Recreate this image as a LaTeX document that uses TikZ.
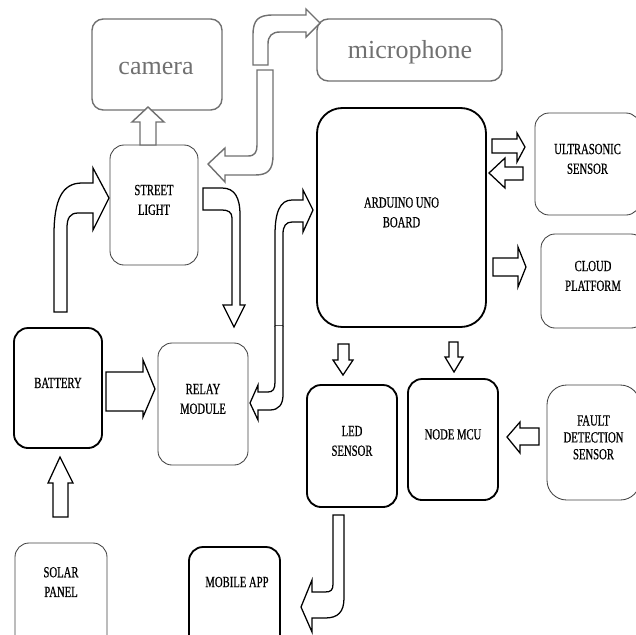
\documentclass[tikz,border=0pt]{standalone}
\usepackage{fontspec}
\setmainfont{Liberation Serif}
\newfontfamily\narrowserif[FakeStretch=0.69,FakeBold=0.6]{Liberation Serif}
\usepackage{tikz}
\usetikzlibrary{fit}
\definecolor{camgray}{RGB}{112,112,112}
\tikzset{
  sbox/.style={rectangle, rounded corners=10pt, draw=black, line width=1.3pt, inner sep=0pt, align=center, font=\narrowserif\fontsize{11}{14}\selectfont},
  sboxthin/.style={sbox, draw=black!75, line width=0.6pt},
  gbox/.style={rectangle, draw=camgray, line width=1pt, rounded corners=8pt, inner sep=0pt},
  gtext/.style={anchor=base, inner sep=0pt, text=camgray, font=\fontsize{18.5}{20}\selectfont},
  sarrow/.style={draw=black, line width=0.9pt, fill=white, line join=miter},
  garrow/.style={sarrow, draw=camgray, line width=1pt}
}

\begin{document}
\begin{tikzpicture}[x=0.025cm, y=-0.025cm]
\useasboundingbox (0,0) rectangle (636,634);
\clip (0,0) rectangle (636,634);
% blocks
\node[gbox, fit={(92,19) (222,110)}] (camera) {};
\node[gtext] (camera-txt) at (156,74) {camera};
\node[gbox, fit={(317,19) (502,81)}] (mic) {};
\node[gtext] (mic-txt) at (410,58) {microphone};
\node[sboxthin, fit={(110,145) (198,265)}] (slight) {STREET\\LIGHT};
\node[sbox, rounded corners=18pt, fit={(317,108) (486,327)}] (arduino) {ARDUINO UNO\\BOARD};
\node[sboxthin, fit={(535,113) (640,215)}] (ultra) {ULTRASONIC\\SENSOR};
\node[sboxthin, fit={(541,234) (645,328)}] (cloud) {CLOUD\\PLATFORM};
\node[sbox, fit={(14,328) (102,448)}] (battery) {BATTERY};
\node[sboxthin, align=left, fit={(158,343) (248,465)}] (relay) {RELAY\\MODULE};
\node[sbox, fit={(307,385) (397,507)}] (led) {LED\\SENSOR};
\node[sbox, fit={(408,379) (498,500)}] (nodemcu) {NODE MCU};
\node[sboxthin, rounded corners=14pt, fit={(547,385) (640,500)}, font=\narrowserif\fontsize{11}{12}\selectfont] (fault) {FAULT\\DETECTION\\SENSOR};
\node[sboxthin, fit={(15,543) (107,660)}] (solar) {};
\node[sbox, fit={(189,547) (280,660)}] (mobile) {};
\node[sbox, draw=none, fill=none] (solar-txt) at (61,582) {SOLAR\\PANEL};
\node[sbox, draw=none, fill=none] (mobile-txt) at (237,582) {MOBILE APP};
% block arrows
\draw[garrow] (140,145)--(140,122)--(132,122)--(148,107)--(164,122)--(156,122)--(156,145)--cycle;
\draw[garrow] (253,65)--(253,35) .. controls (253,20) and (258,15) .. (273,15)--(306,15)--(306,9)--(320,23)--(306,37)--(306,32)--(280,32) .. controls (272,32) and (268,36) .. (268,44)--(268,65)--cycle;
\draw[garrow] (257,70)--(273,70)--(273,155) .. controls (273,170) and (268,175) .. (255,175)--(225,175)--(225,182)--(208,164)--(225,148)--(225,156)--(248,156) .. controls (255,156) and (257,152) .. (257,145)--cycle;
\draw[sarrow] (54,312)--(54,235) .. controls (54,200) and (62,183) .. (82,183)--(93,183)--(93,168)--(109,198)--(93,230)--(93,213)--(78,213) .. controls (70,213) and (67,218) .. (67,228)--(67,312)--cycle;
\draw[sarrow] (203,188)--(222,188) .. controls (235,188) and (240,198) .. (240,215)--(240,305)--(245,305)--(234,327)--(223,305)--(232,305)--(232,218) .. controls (232,212) and (228,210) .. (222,210)--(203,210)--cycle;
\draw[sarrow] (275,326)--(275,235) .. controls (275,212) and (280,200) .. (292,200)--(303,200)--(303,190)--(313,210)--(303,232)--(303,222)--(292,222) .. controls (286,222) and (283,226) .. (283,234)--(283,326)--cycle;
\draw[sarrow] (275,326)--(275,382) .. controls (275,389) and (273,392) .. (268,392)--(258,392)--(258,385)--(250,403)--(258,420)--(258,410)--(270,410) .. controls (279,410) and (283,404) .. (283,395)--(283,326);
\draw[sarrow] (106,372)--(143,372)--(143,360)--(155,389)--(143,417)--(143,411)--(106,411)--cycle;
\draw[sarrow] (53,517)--(53,483)--(48,483)--(60,457)--(73,483)--(68,483)--(68,517)--cycle;
\draw[sarrow] (492,139)--(517,139)--(517,133)--(525,147)--(517,162)--(517,153)--(492,153)--cycle;
\draw[sarrow] (523,167)--(505,167)--(505,158)--(489,173)--(505,188)--(505,180)--(523,180)--cycle;
\draw[sarrow] (493,258)--(518,258)--(518,247)--(526,267)--(518,287)--(518,276)--(493,276)--cycle;
\draw[sarrow] (338,344)--(349,344)--(349,360)--(353,360)--(343,375)--(333,360)--(338,360)--cycle;
\draw[sarrow] (449,342)--(458,342)--(458,357)--(463,357)--(454,372)--(445,357)--(449,357)--cycle;
\draw[sarrow] (539,428)--(520,428)--(520,422)--(507,437)--(520,453)--(520,445)--(539,445)--cycle;
\draw[sarrow] (333,515)--(344,515)--(344,598) .. controls (344,612) and (338,618) .. (325,618)--(312,618)--(312,632)--(301,607)--(312,580)--(312,592)--(325,592) .. controls (331,592) and (333,590) .. (333,584)--cycle;
\end{tikzpicture}
\end{document}
